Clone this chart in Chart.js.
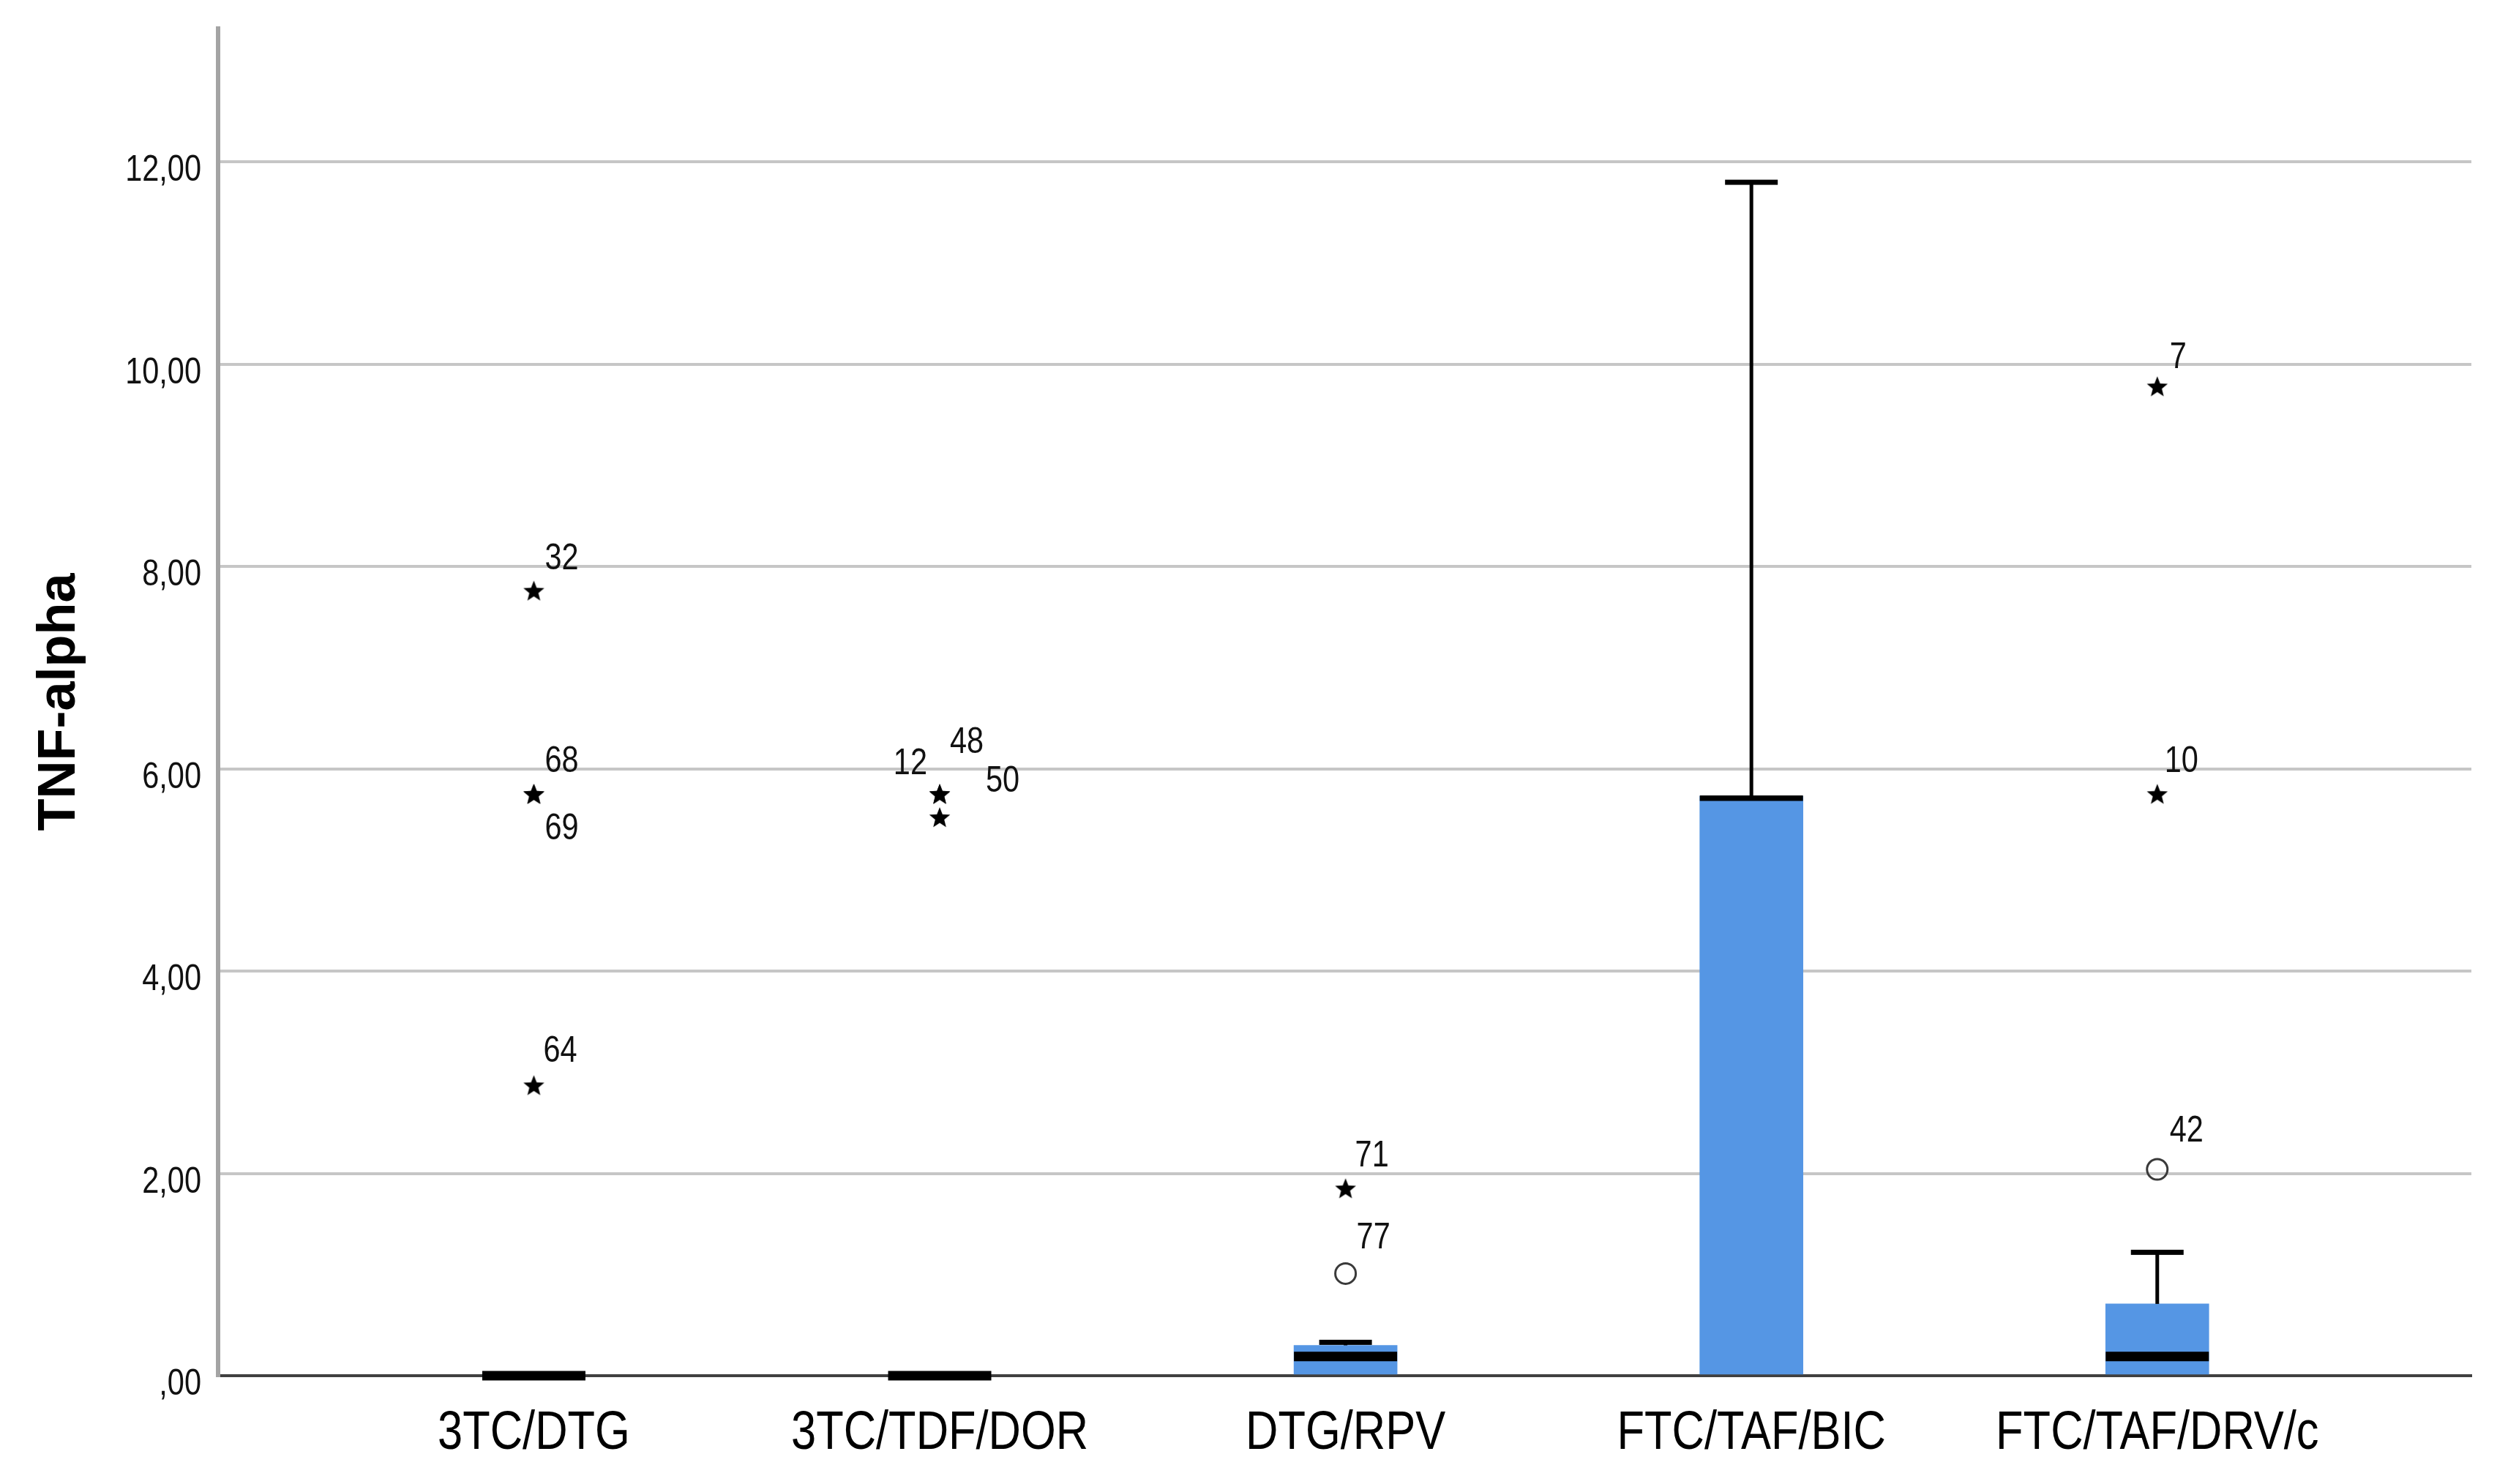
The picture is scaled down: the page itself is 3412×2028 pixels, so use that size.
<!DOCTYPE html>
<html><head><meta charset="utf-8">
<script src="https://cdn.jsdelivr.net/npm/chart.js@4.4.1/dist/chart.umd.min.js"></script>
<style>html,body{margin:0;padding:0;background:#fff;}#wrap{width:3412px;height:2028px;}</style>
</head><body><div id="wrap"><canvas id="c" width="3412" height="2028"></canvas></div>
<script>
// ---- data ----
const categories = ['3TC/DTG', '3TC/TDF/DOR', 'DTG/RPV', 'FTC/TAF/BIC', 'FTC/TAF/DRV/c'];
const q1 = [0, 0, 0, 0, 0];
const medians = [0, 0, 0.19, 5.73, 0.19];
const q3 = [0, 0, 0.30, 5.73, 0.71];
const whiskerLow = [0, 0, 0, 0, 0];
const whiskerHigh = [0, 0, 0.33, 11.80, 1.22];
const extremeCategory = [0, 0, 0, 0, 1, 1, 1, 2, 4, 4];
const extremeValues = [7.76, 5.75, 5.75, 2.87, 5.75, 5.75, 5.52, 1.85, 9.78, 5.75];
const extremeIds = ['32', '68', '69', '64', '12', '48', '50', '71', '7', '10'];
const mildCategory = [2, 4];
const mildValues = [1.01, 2.04];
const mildIds = ['77', '42'];
const yTickValues = [0, 2, 4, 6, 8, 10, 12];
const yTickLabels = [',00', '2,00', '4,00', '6,00', '8,00', '10,00', '12,00'];
const yTitle = 'TNF-alpha';

// ---- style (label placement relative to marker, px) ----
const labelPlacement = {
  '32': [15, -43, 'left'], '68': [15, -44, 'left'], '69': [15, 48, 'left'], '64': [13, -46, 'left'],
  '12': [-17, -41, 'right'], '48': [14, -70, 'left'], '50': [63, -49, 'left'],
  '71': [13, -44, 'left'], '7': [17, -39, 'left'], '10': [10, -44, 'left'],
  '77': [15, -48, 'left'], '42': [17, -52, 'left']
};
const FONT = '"Liberation Sans", Arial, sans-serif';
const SQUEEZE = 0.83;
const BOX_W = 141;

// star marker image
const starImg = document.createElement('canvas');
starImg.width = 32; starImg.height = 32;
(function () {
  const g = starImg.getContext('2d');
  g.fillStyle = '#000';
  g.beginPath();
  for (let k = 0; k < 10; k++) {
    const r = k % 2 === 0 ? 15 : 6.5;
    const a = -Math.PI / 2 + k * Math.PI / 5;
    const px = 16 + r * Math.cos(a), py = 17 + r * Math.sin(a);
    if (k === 0) g.moveTo(px, py); else g.lineTo(px, py);
  }
  g.closePath(); g.fill();
})();

function squeezedText(ctx, text, x, y, align, baseline) {
  ctx.save();
  ctx.translate(x, y);
  ctx.scale(SQUEEZE, 1);
  ctx.textAlign = align;
  ctx.textBaseline = baseline;
  ctx.fillText(text, 0, 0);
  ctx.restore();
}

const boxParts = {
  id: 'boxParts',
  afterDatasetsDraw(chart) {
    const {ctx, scales: {x, y}} = chart;
    ctx.save();
    ctx.fillStyle = '#000';
    categories.forEach((c, i) => {
      const cx = x.getPixelForValue(i);
      const yQ1 = y.getPixelForValue(q1[i]);
      const yQ3 = y.getPixelForValue(q3[i]);
      if (whiskerHigh[i] > q3[i]) {
        const yt = y.getPixelForValue(whiskerHigh[i]);
        ctx.fillRect(cx - 2.5, yt, 5, yQ3 - yt);
        ctx.fillRect(cx - 36, yt - 3.5, 72, 7);
      }
      if (whiskerLow[i] < q1[i]) {
        const yb = y.getPixelForValue(whiskerLow[i]);
        ctx.fillRect(cx - 2.5, yQ1, 5, yb - yQ1);
        ctx.fillRect(cx - 36, yb - 3.5, 72, 7);
      }
      const ym = y.getPixelForValue(medians[i]);
      let top = ym - 6.5, bot = ym + 6.5;
      if (q3[i] > q1[i]) { top = Math.max(top, yQ3 - 1); }
      ctx.fillRect(cx - BOX_W / 2, top, BOX_W, bot - top);
    });
    // outlier case labels
    ctx.font = '50px ' + FONT;
    ctx.fillStyle = '#111';
    const drawLabel = (cat, val, id) => {
      const p = labelPlacement[id] || [15, -44, 'left'];
      squeezedText(ctx, id, x.getPixelForValue(cat) + p[0], y.getPixelForValue(val) + p[1], p[2], 'middle');
    };
    extremeIds.forEach((id, i) => drawLabel(extremeCategory[i], extremeValues[i], id));
    mildIds.forEach((id, i) => drawLabel(mildCategory[i], mildValues[i], id));
    ctx.restore();
  },
  afterDraw(chart) {
    const {ctx, scales: {x, y}} = chart;
    ctx.save();
    // y tick labels
    ctx.font = '50px ' + FONT;
    ctx.fillStyle = '#111';
    yTickValues.forEach((v, i) => {
      squeezedText(ctx, yTickLabels[i], y.right - 23, y.getPixelForValue(v) + 26, 'right', 'alphabetic');
    });
    // x category labels
    ctx.font = '74px ' + FONT;
    ctx.fillStyle = '#000';
    categories.forEach((c, i) => {
      squeezedText(ctx, c, x.getPixelForValue(i), x.top + 100, 'center', 'alphabetic');
    });
    ctx.restore();
  }
};

new Chart(document.getElementById('c'), {
  type: 'bar',
  data: {
    datasets: [
      {
        type: 'bar',
        data: categories.map((c, i) => ({x: i, y: [q1[i], q3[i]]})),
        backgroundColor: '#5596e4', borderWidth: 0, barThickness: BOX_W, grouped: false, order: 3
      },
      {
        type: 'scatter',
        data: extremeValues.map((v, i) => ({x: extremeCategory[i], y: v})),
        pointStyle: starImg, pointRadius: 16, order: 1
      },
      {
        type: 'scatter',
        data: mildValues.map((v, i) => ({x: mildCategory[i], y: v})),
        pointStyle: 'circle', pointRadius: 14, borderWidth: 3,
        borderColor: '#3a3a3a', backgroundColor: 'rgba(255,255,255,0)', order: 1
      }
    ]
  },
  options: {
    responsive: false, animation: false, devicePixelRatio: 1,
    layout: {padding: {top: 39, right: 35, left: 0, bottom: 0}},
    plugins: {legend: {display: false}, tooltip: {enabled: false}},
    scales: {
      x: {
        type: 'linear', min: -0.778, max: 4.774, offset: false,
        afterBuildTicks: (s) => { s.ticks = categories.map((c, i) => ({value: i})); },
        afterFit: (s) => { s.height = 148; },
        ticks: {display: false},
        grid: {color: 'rgba(0,0,0,0)', drawTicks: false},
        border: {color: '#404040', width: 4}
      },
      y: {
        type: 'linear', min: 0, max: 13.32,
        afterBuildTicks: (s) => { s.ticks = yTickValues.map(v => ({value: v})); },
        afterFit: (s) => { s.width = 298; },
        ticks: {display: false},
        grid: {color: (c) => c.tick && c.tick.value === 0 ? 'rgba(0,0,0,0)' : '#c6c6c6', lineWidth: 4, drawTicks: false},
        border: {color: '#a4a4a4', width: 6},
        title: {
          display: true, text: yTitle, color: '#000',
          font: {family: FONT, size: 72, weight: 'bold'},
          padding: {top: 39, bottom: 0}
        }
      }
    }
  },
  plugins: [boxParts]
});
</script>
</body></html>
